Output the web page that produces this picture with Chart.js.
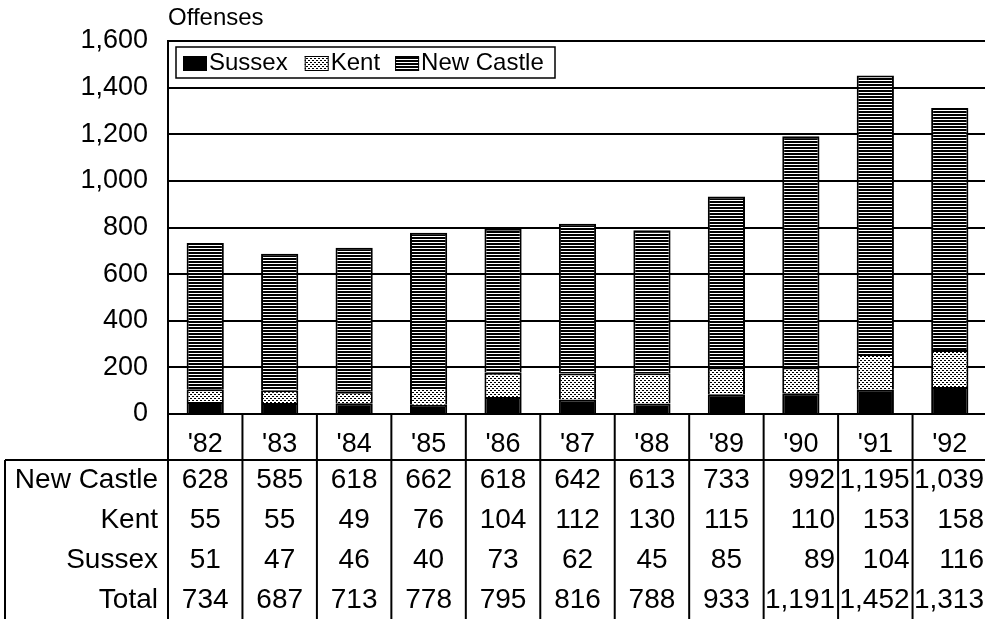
<!DOCTYPE html>
<html><head><meta charset="utf-8">
<script src="https://cdn.jsdelivr.net/npm/chart.js@4/dist/chart.umd.min.js"></script>
<style>html,body{margin:0;padding:0;overflow:hidden;background:#fff;width:985px;height:619px}canvas{display:block}</style>
</head><body>
<canvas id="c" width="990" height="619" style="width:990px;height:619px"></canvas>
<script>
const years = ["'82","'83","'84","'85","'86","'87","'88","'89","'90","'91","'92"];
const newCastle = [628,585,618,662,618,642,613,733,992,1195,1039];
const kent = [55,55,49,76,104,112,130,115,110,153,158];
const sussex = [51,47,46,40,73,62,45,85,89,104,116];
const totals = [734,687,713,778,795,816,788,933,1191,1452,1313];
const yMin = 0, yMax = 1600, yStep = 200;
const yTitle = 'Offenses';
const seriesNames = ['Sussex','Kent','New Castle'];
const tableRows = [['New Castle', newCastle],['Kent', kent],['Sussex', sussex],['Total', totals]];

const FONT = "'Liberation Sans', Arial, Helvetica, sans-serif";
Chart.defaults.font.family = FONT;
Chart.defaults.color = '#000';

function makePattern(w, h, draw) {
  const c = document.createElement('canvas'); c.width = w; c.height = h;
  const g = c.getContext('2d');
  g.fillStyle = '#fff'; g.fillRect(0,0,w,h);
  g.fillStyle = '#000'; draw(g);
  return document.getElementById('c').getContext('2d').createPattern(c, 'repeat');
}
const stripePat = makePattern(4, 3, g => { g.fillRect(0,0,4,2); });
const dotPat = makePattern(4, 4, g => { g.fillRect(0,0,2,1); g.fillRect(2,2,2,1); });
const fills = ['#000', dotPat, stripePat];

const fmt = v => v.toLocaleString('en-US');

const tablePlugin = {
  id: 'tablePlugin',
  afterDraw(chart) {
    const ctx = chart.ctx, xs = chart.scales.x, area = chart.chartArea;
    const n = years.length;
    const cw = (area.right - area.left) / n;
    const tableTop = 460, bottom = 619;
    ctx.save();
    ctx.strokeStyle = '#000'; ctx.lineWidth = 2;
    ctx.beginPath(); ctx.moveTo(5, tableTop); ctx.lineTo(chart.width, tableTop); ctx.stroke();
    ctx.beginPath(); ctx.moveTo(5, tableTop); ctx.lineTo(5, bottom); ctx.stroke();
    for (let i = 0; i <= n; i++) {
      const x = area.left + i * cw;
      ctx.beginPath(); ctx.moveTo(x, area.bottom); ctx.lineTo(x, bottom); ctx.stroke();
    }
    ctx.fillStyle = '#000';
    ctx.font = '28px ' + FONT;
    ctx.textBaseline = 'middle';
    const rowY = [480, 520, 560, 600];
    tableRows.forEach((row, r) => {
      const y = rowY[r];
      ctx.textAlign = 'right';
      ctx.fillText(row[0], 158, y);
      row[1].forEach((v, i) => {
        const cx = xs.getPixelForValue(i);
        const s = fmt(v);
        if (i >= 8) { ctx.textAlign = 'right'; ctx.fillText(s, cx + cw / 2 - 3, y); }
        else { ctx.textAlign = 'center'; ctx.fillText(s, cx, y); }
      });
    });
    ctx.textAlign = 'left';
    ctx.font = '24px ' + FONT;
    ctx.fillText(yTitle, 168, 18);
    ctx.fillStyle = '#fff';
    ctx.fillRect(176, 47, 379, 31);
    ctx.lineWidth = 1.5;
    ctx.strokeRect(176, 47, 379, 31);
    ctx.font = '24px ' + FONT;
    let lx = 183;
    const gaps = [17, 15, 0];
    seriesNames.forEach((name, i) => {
      ctx.fillStyle = fills[i];
      ctx.fillRect(lx, 56, 24, 15);
      ctx.lineWidth = 1; ctx.strokeRect(lx + 0.5, 56.5, 23, 14);
      ctx.fillStyle = '#000';
      ctx.textAlign = 'left';
      ctx.fillText(name, lx + 26, 63);
      lx += 26 + ctx.measureText(name).width + gaps[i];
    });
    ctx.restore();
  }
};

new Chart(document.getElementById('c'), {
  type: 'bar',
  data: {
    labels: years,
    datasets: [
      { label: seriesNames[0], data: sussex, backgroundColor: fills[0], borderColor: '#000', borderWidth: 2 },
      { label: seriesNames[1], data: kent, backgroundColor: fills[1], borderColor: '#000', borderWidth: 2 },
      { label: seriesNames[2], data: newCastle, backgroundColor: fills[2], borderColor: '#000', borderWidth: 2 }
    ]
  },
  options: {
    responsive: false, animation: false, devicePixelRatio: 1,
    layout: { padding: { top: 41, right: 3, left: 0, bottom: 0 } },
    plugins: { legend: { display: false }, tooltip: { enabled: false } },
    datasets: { bar: { categoryPercentage: 1, barPercentage: 0.5 } },
    scales: {
      x: {
        stacked: true,
        grid: { display: false, drawTicks: false },
        border: { display: false },
        ticks: { font: { size: 27 }, padding: 14, maxRotation: 0, autoSkip: false },
        afterFit(s) { s.height = 205; }
      },
      y: {
        stacked: true, min: yMin, max: yMax,
        ticks: { stepSize: yStep, font: { size: 27 }, padding: 20, callback: v => fmt(v) },
        grid: { color: '#000', lineWidth: 2, drawTicks: false },
        border: { color: '#000', width: 2 },
        afterFit(s) { s.width = 168; }
      }
    }
  },
  plugins: [tablePlugin]
});
</script>
</body></html>
